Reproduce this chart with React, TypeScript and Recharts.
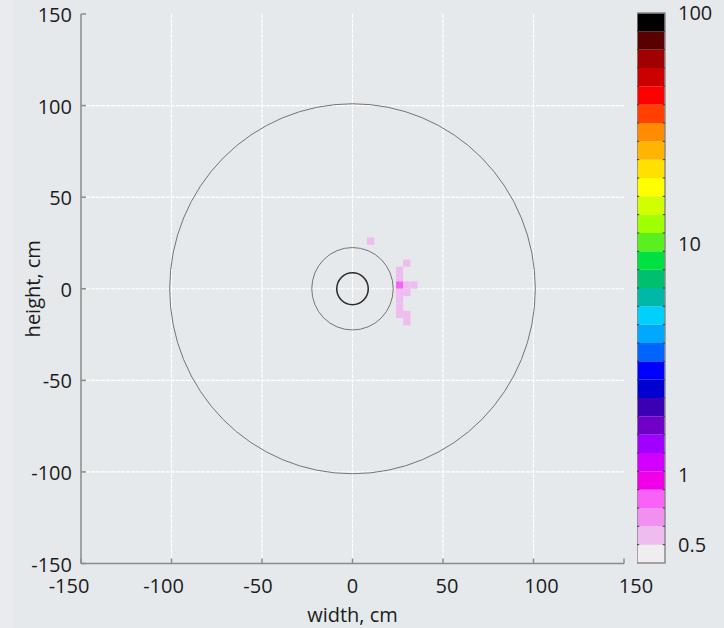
import React from 'react'
import {
  ComposedChart,
  XAxis,
  YAxis,
  CartesianGrid,
  ReferenceArea,
  ReferenceLine,
} from 'recharts'

// axis setup (cm)
const axisTicks = [-150, -100, -50, 0, 50, 100, 150]
const gridValues = [-100, -50, 0, 50, 100]

// rings centred on the origin
const ringRadius = [101, 22.5, 8.7]
const ringStroke = ['#747474', '#747474', '#2e2e2e']
const ringWidth = [1, 1, 1.6]

// 4 cm cells, lower-left corner + value
const cellSize = 4
const cellX = [8, 28, 24, 24, 24, 28, 32, 24, 28, 24, 24, 24, 28, 28]
const cellY = [24, 12, 8, 4, 0, 0, 0, -4, -4, -8, -12, -16, -16, -20]
const cellValue = [0.55, 0.55, 0.55, 0.55, 0.75, 0.55, 0.55, 0.55, 0.55, 0.55, 0.55, 0.55, 0.55, 0.55]

// colour scale, lowest band first
const scaleColors = [
  '#eeeeee', '#eebcee', '#f090f0', '#f862f8', '#f000e8', '#d200ff',
  '#a000ff', '#7000c8', '#3c00b4', '#0000d0', '#0000ff', '#0064ff',
  '#00a8ff', '#00d0ff', '#00b8a8', '#00c070', '#00e040', '#5af020',
  '#a0ff00', '#d2ff00', '#ffff00', '#ffe000', '#ffb400', '#ff8c00',
  '#ff4000', '#ff0000', '#cc0000', '#a00000', '#5a0000', '#000000',
]
const scaleMin = 0.5
const scaleMax = 100
const scaleTicks = [0.5, 1, 10, 100]

// the colour bar axis runs in log10 units; band edges are evenly spaced there,
// with the first band sitting below scaleMin
const logMin = Math.log10(scaleMin)
const logMax = Math.log10(scaleMax)
const steps = scaleColors.length - 1
const bandEdges = Array.from({ length: scaleColors.length + 1 }, (_, i) =>
  logMin + ((logMax - logMin) * (i - 1)) / steps
)
const logTicks = scaleTicks.map((t) => Math.log10(t))

const colorFor = (v: number) => {
  const lv = Math.log10(v)
  for (let i = scaleColors.length - 1; i >= 0; i--) {
    if (lv >= bandEdges[i]) return scaleColors[i]
  }
  return scaleColors[0]
}

const FONT = "'Open Sans', 'Noto Sans', sans-serif"
const TEXT = '#1c1c1c'
const AXIS = '#8a8a8a'
const BG = '#e6e9ec'
const TICK_LEN = 5
const X_GAP = 15
const Y_GAP = 9
// x labels sit slightly wider apart than their ticks
const LABEL_SPREAD = 0.08

function XTick({ x, y, payload }: any) {
  const axisY = y - X_GAP
  return (
    <g>
      <line x1={x} x2={x} y1={axisY} y2={axisY - TICK_LEN} stroke={AXIS} strokeWidth={1.5} />
      <text
        x={x + payload.value * LABEL_SPREAD}
        y={y}
        dy="0.71em"
        textAnchor="middle"
        fontSize={20}
        fill={TEXT}
      >
        {payload.value}
      </text>
    </g>
  )
}

function YTick({ x, y, payload }: any) {
  const axisX = x + Y_GAP
  return (
    <g>
      <line x1={axisX} x2={axisX + TICK_LEN} y1={y} y2={y} stroke={AXIS} strokeWidth={1.5} />
      <text x={x} y={y + 1} dy="0.355em" textAnchor="end" fontSize={20} fill={TEXT}>
        {payload.value}
      </text>
    </g>
  )
}

const ring = (stroke: string, width: number) => (p: any) => (
  <ellipse
    cx={p.x + p.width / 2}
    cy={p.y + p.height / 2}
    rx={p.width / 2}
    ry={p.height / 2}
    fill="none"
    stroke={stroke}
    strokeWidth={width}
  />
)

function DoseMap() {
  return (
    <ComposedChart width={664} height={628} margin={{ top: 14, right: 40, bottom: 0, left: 0 }} data={[]}>
      <CartesianGrid
        stroke="#ffffff"
        strokeWidth={1.2}
        strokeDasharray="4 1"
        horizontalValues={gridValues}
        verticalValues={gridValues}
      />
      <XAxis
        type="number"
        dataKey="x"
        domain={[-150, 150]}
        ticks={axisTicks}
        allowDataOverflow
        height={64.5}
        axisLine={{ stroke: AXIS, strokeWidth: 1.5 }}
        tickLine={false}
        tickSize={0}
        tickMargin={X_GAP}
        tick={<XTick />}
        label={{ value: 'width, cm', position: 'insideBottom', offset: 6, fontSize: 20, fill: TEXT }}
      />
      <YAxis
        type="number"
        dataKey="y"
        domain={[-150, 150]}
        ticks={axisTicks}
        allowDataOverflow
        width={81}
        axisLine={{ stroke: AXIS, strokeWidth: 1.5 }}
        tickLine={false}
        tickSize={0}
        tickMargin={Y_GAP}
        tick={<YTick />}
        label={{ value: 'height, cm', angle: -90, position: 'center', dx: -8, fontSize: 20, fill: TEXT }}
      />
      {cellX.map((x, i) => (
        <ReferenceArea
          key={`cell-${i}`}
          x1={x}
          x2={x + cellSize}
          y1={cellY[i]}
          y2={cellY[i] + cellSize}
          fill={colorFor(cellValue[i])}
          fillOpacity={1}
          stroke="none"
        />
      ))}
      {ringRadius.map((r, i) => (
        <ReferenceArea
          key={`ring-${i}`}
          x1={-r}
          x2={r}
          y1={-r}
          y2={r}
          shape={ring(ringStroke[i], ringWidth[i])}
        />
      ))}
    </ComposedChart>
  )
}

function ColorScale() {
  return (
    <ComposedChart width={87} height={628} margin={{ top: 13, right: 0, bottom: 65, left: 0 }} data={[]}>
      <XAxis type="number" dataKey="x" domain={[0, 1]} hide allowDataOverflow />
      <YAxis
        type="number"
        dataKey="y"
        domain={[bandEdges[0], logMax]}
        allowDataOverflow
        orientation="right"
        ticks={logTicks}
        width={59}
        axisLine={false}
        tickLine={false}
        tickSize={0}
        tickMargin={13}
        tick={{ fontSize: 20, fill: TEXT }}
        tickFormatter={(v: number) => String(Math.round(Math.pow(10, v) * 10) / 10)}
      />
      {scaleColors.map((c, i) => (
        <ReferenceArea
          key={`band-${i}`}
          x1={0}
          x2={1}
          y1={bandEdges[i]}
          y2={Math.min(bandEdges[i + 1], logMax)}
          fill={c}
          fillOpacity={1}
          stroke="none"
          ifOverflow="extendDomain"
        />
      ))}
      {bandEdges.slice(1, -1).map((v, i) => (
        <ReferenceLine key={`ml-${i}`} segment={[{ x: 0, y: v }, { x: 0.08, y: v }]} stroke="#3a3a3a" strokeWidth={1} />
      ))}
      {bandEdges.slice(1, -1).map((v, i) => (
        <ReferenceLine key={`mr-${i}`} segment={[{ x: 0.92, y: v }, { x: 1, y: v }]} stroke="#3a3a3a" strokeWidth={1} />
      ))}
      <ReferenceArea
        x1={0}
        x2={1}
        y1={bandEdges[0]}
        y2={logMax}
        fill="none"
        stroke={AXIS}
        strokeWidth={1.5}
      />
    </ComposedChart>
  )
}

export default function App() {
  return (
    <div
      style={{
        position: 'absolute',
        left: 0,
        top: 0,
        width: 724,
        height: 628,
        background: BG,
        fontFamily: FONT,
        overflow: 'hidden',
      }}
    >
      <div style={{ position: 'absolute', left: 0, top: 0, width: 13, height: 628, background: '#e9ebee' }} />
      <div style={{ position: 'absolute', left: 0, top: 0 }}>
        <DoseMap />
      </div>
      <div style={{ position: 'absolute', left: 637, top: 0 }}>
        <ColorScale />
      </div>
    </div>
  )
}
